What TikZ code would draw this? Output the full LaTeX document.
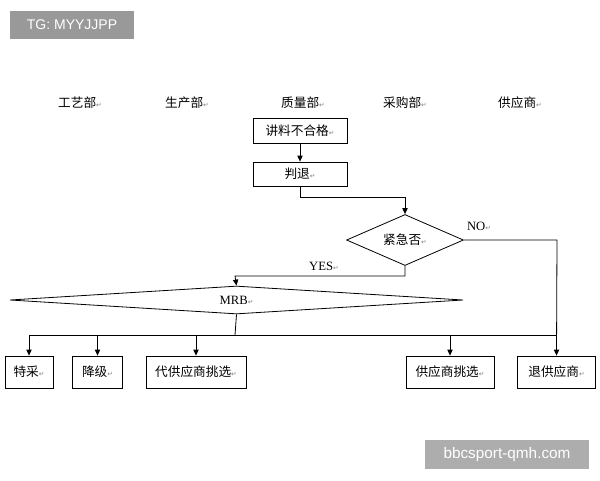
\documentclass[tikz,border=0pt]{standalone}
\usepackage{fontspec}
\setmainfont{Liberation Serif}
\newfontfamily\cjk{Noto Sans CJK SC}
\newfontfamily\dv{DejaVu Sans}
\newfontfamily\lsans{Liberation Sans}
\usetikzlibrary{shapes.geometric,arrows.meta}
\newcommand{\parmk}{{\dv\fontsize{5}{5}\selectfont\textcolor{gray}{↵}}}
\begin{document}
\begin{tikzpicture}[x=0.75pt,y=-0.75pt,
  lbl/.style={font=\cjk\fontsize{9.5}{11}\selectfont,inner sep=0pt},
  box/.style={draw,line width=0.6pt,inner sep=0pt},
  con/.style={line width=0.6pt},
  arr/.style={con,-{Triangle[length=4.5pt,width=4pt]}},
  wm/.style={text=white,font=\lsans\fontsize{10.5}{12}\selectfont,inner sep=0pt}]
\useasboundingbox (0,0) rectangle (600,480);
\fill[white] (0,0) rectangle (600,480);
% watermarks
\node[wm,fill=black!40,minimum width=93pt,minimum height=21pt] (w1) at (72,25) {TG: MYYJJPP};
\node[wm,fill=black!32,font=\lsans\fontsize{11.5}{13}\selectfont,minimum width=123pt,minimum height=22pt] (w2) at (507,454.5) {bbcsport-qmh.com};
% headers
\node[lbl] (h1) at (80,103) {工艺部\parmk};
\node[lbl] (h2) at (187,103) {生产部\parmk};
\node[lbl] (h3) at (303,103) {质量部\parmk};
\node[lbl] (h4) at (405,103) {采购部\parmk};
\node[lbl] (h5) at (520,103) {供应商\parmk};
% boxes
\node[box,minimum width=70.5pt,minimum height=18.75pt] (b1) at (300,131) {};
\node[lbl] at (b1) {讲料不合格\parmk};
\node[box,minimum width=70.5pt,minimum height=18pt] (b2) at (300,174) {};
\node[lbl] at (b2) {判退\parmk};
\draw[arr] (b1.south) -- (b2.north);
\node[draw,diamond,aspect=2.3,line width=0.6pt,minimum width=87.75pt,minimum height=38.25pt,inner sep=0pt] (d1) at (405,240) {};
\node[lbl] at (d1) {紧急否\parmk};
\coordinate (c1) at (300,197);
\coordinate (c2) at (405,197);
\draw[arr] (b2.south) -- (c1) -- (c2) -- (d1.north);
\node[draw,diamond,aspect=16,line width=0.6pt,minimum width=340pt,minimum height=21pt,inner sep=0pt] (d2) at (236.5,300) {};
\node[font=\fontsize{9.5}{11}\selectfont,inner sep=0pt] at (d2) {MRB\parmk};
\coordinate (c3) at (405,276);
\coordinate (c4) at (235,276);
\draw[arr] (d1.south) -- (c3) -- (c4) -- (d2.north);
\node[font=\fontsize{9.5}{11}\selectfont,inner sep=0pt] (yes) at (324,266) {YES\parmk};
\node[font=\fontsize{9.5}{11}\selectfont,inner sep=0pt] (no) at (479,226) {NO\parmk};
% bottom boxes
\node[box,minimum width=36pt,minimum height=24pt] (r1) at (29,372) {};
\node[lbl] at (r1) {特采\parmk};
\node[box,minimum width=37pt,minimum height=24pt] (r2) at (97.5,372) {};
\node[lbl] at (r2) {降级\parmk};
\node[box,minimum width=75pt,minimum height=24pt] (r3) at (196,372) {};
\node[lbl] at (r3) {代供应商挑选\parmk};
\node[box,minimum width=66pt,minimum height=24pt] (r4) at (450,372) {};
\node[lbl] at (r4) {供应商挑选\parmk};
\node[box,minimum width=59pt,minimum height=24pt] (r5) at (556.5,372) {};
\node[lbl] at (r5) {退供应商\parmk};
\coordinate (m1) at (235,335);
\coordinate (m2) at (29,335);
\coordinate (m3) at (557,335);
\draw[con] (d2.south) -- (m1);
\draw[con] (m2) -- (m3);
\coordinate (n1) at (557,240);
\draw[arr] (d1.east) -- (n1) -- (r5.north);
\draw[arr] (m2) -- (r1.north);
\draw[arr] (97.5,335) -- (r2.north);
\draw[arr] (196,335) -- (r3.north);
\draw[arr] (450,335) -- (r4.north);
\end{tikzpicture}
\end{document}
